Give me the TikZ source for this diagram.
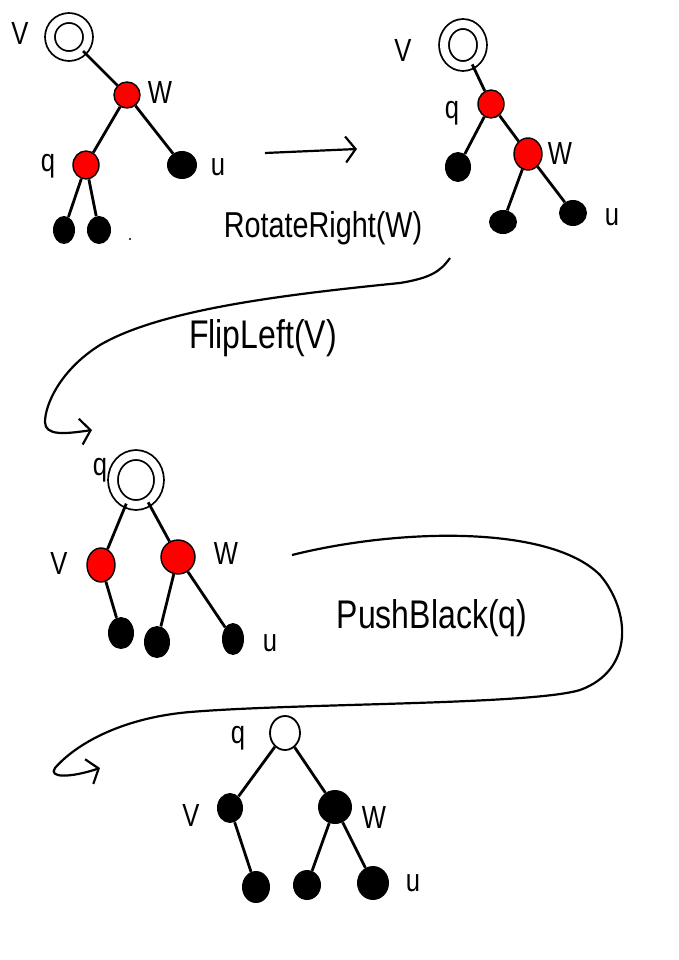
\documentclass[tikz,border=0pt]{standalone}
\usepackage{fontspec}
\newfontfamily\handfont[FakeStretch=0.8]{Liberation Sans}
\usetikzlibrary{shapes.geometric,arrows.meta}

\tikzset{
    sz/.style 2 args={minimum width=#1pt, minimum height=#2pt},
    rednode/.style={ellipse, draw, line width=1.4pt, fill=red, inner sep=0pt},
    blacknode/.style={ellipse, fill=black, inner sep=0pt},
    whitenode/.style={ellipse, draw, line width=1.8pt, inner sep=0pt},
    rootnode/.style={ellipse, draw, line width=1.8pt, double, double distance=8pt, inner sep=0pt},
    lbl/.style={font=\handfont\fontsize{32}{32}\selectfont, inner sep=0pt},
    oplbl/.style={font=\handfont\fontsize{#1}{#1}\selectfont, inner sep=0pt},
    oplbl/.default=36,
    link/.style={line width=2.8pt},
    flow/.style={line width=2.2pt, -{Straight Barb[length=10pt,width=26pt]}}
}

\begin{document}
\begin{tikzpicture}[x=1pt,y=-1pt]
        \useasboundingbox (0,0) rectangle (679,960);

        \node[rootnode, sz={38}{38}] (v1) at (69,37) {};
        \node[rednode, sz={26}{26}] (w1) at (127,95) {};
        \node[rednode, sz={26}{28}] (q1) at (86,165) {};
        \node[blacknode, sz={30}{28}] (u1) at (182,165) {};
        \node[blacknode, sz={22}{28}] (l1a) at (64,230) {};
        \node[blacknode, sz={24}{28}] (l1b) at (99,230) {};
        \node[lbl] (tv1) at (20,33) {V};
        \node[lbl] (tw1) at (160,92) {W};
        \node[lbl] (tq1) at (48,166) {q};
        \node[lbl] (tu1) at (218,167) {u};
        \draw[link] (v1) -- (w1) (w1) -- (q1) (w1) -- (u1) (q1) -- (l1a) (q1) -- (l1b);
        \fill (130,239) circle (1.2pt);

        \coordinate (a1s) at (265,153);
        \coordinate (a1e) at (357,149);
        \draw[flow] (a1s) -- (a1e);
        \node[oplbl] (rot) at (323,228) {RotateRight(W)};

        \node[rootnode, sz={38}{42}] (v2) at (463,45) {};
        \node[rednode, sz={26}{28}] (q2) at (491,104) {};
        \node[rednode, sz={28}{32}] (w2) at (528,154) {};
        \node[blacknode, sz={26}{30}] (l2a) at (458,167) {};
        \node[blacknode, sz={28}{24}] (l2b) at (503,222) {};
        \node[blacknode, sz={28}{26}] (u2) at (573,213) {};
        \node[lbl] (tv2) at (403,50) {V};
        \node[lbl] (tq2) at (452,113) {q};
        \node[lbl] (tw2) at (560,153) {W};
        \node[lbl] (tu2) at (612,217) {u};
        \draw[link] (v2) -- (q2) (q2) -- (l2a) (q2) -- (w2) (w2) -- (l2b) (w2) -- (u2);

        \coordinate (c1s) at (450,258);
        \coordinate (c1e) at (92,430);
        \draw[flow] (c1s) .. controls (440,272) and (430,278) .. (400,283)
            .. controls (280,295) and (160,310) .. (100,345)
            .. controls (60,370) and (45,405) .. (45,422)
            .. controls (45,436) and (65,434) .. (c1e);
        \node[oplbl=40] (flip) at (263,338) {FlipLeft(V)};

        \node[rootnode, sz={46}{50}] (q3) at (136,480) {};
        \node[rednode, sz={28}{34}] (v3) at (101,565) {};
        \node[rednode, sz={34}{34}] (w3) at (178,557) {};
        \node[blacknode, sz={26}{32}] (l3a) at (121,633) {};
        \node[blacknode, sz={26}{32}] (l3b) at (157,642) {};
        \node[blacknode, sz={22}{32}] (u3) at (233,639) {};
        \node[lbl] (tq3) at (100,470) {q};
        \node[lbl] (tv3) at (59,563) {V};
        \node[lbl] (tw3) at (226,553) {W};
        \node[lbl] (tu3) at (270,643) {u};
        \draw[link] (q3) -- (v3) (q3) -- (w3) (v3) -- (l3a) (w3) -- (l3b) (w3) -- (u3);

        \coordinate (c2s) at (292,555);
        \coordinate (c2e) at (100,768);
        \draw[flow] (c2s) .. controls (400,528) and (550,525) .. (600,575)
            .. controls (630,610) and (635,670) .. (580,690)
            .. controls (530,705) and (300,703) .. (190,712)
            .. controls (120,718) and (75,745) .. (55,768)
            .. controls (48,778) and (70,778) .. (c2e);
        \node[oplbl=40] (push) at (432,618) {PushBlack(q)};

        \node[whitenode, sz={30}{34}] (q4) at (285,733) {};
        \node[blacknode, sz={26}{30}] (v4) at (230,808) {};
        \node[blacknode, sz={34}{34}] (w4) at (335,807) {};
        \node[blacknode, sz={28}{32}] (l4a) at (256,887) {};
        \node[blacknode, sz={28}{30}] (l4b) at (307,885) {};
        \node[blacknode, sz={32}{34}] (u4) at (373,883) {};
        \node[lbl] (tq4) at (238,738) {q};
        \node[lbl] (tv4) at (191,815) {V};
        \node[lbl] (tw4) at (374,817) {W};
        \node[lbl] (tu4) at (413,883) {u};
        \draw[link] (q4) -- (v4) (q4) -- (w4) (v4) -- (l4a) (w4) -- (l4b) (w4) -- (u4);
    \end{tikzpicture}
\end{document}
